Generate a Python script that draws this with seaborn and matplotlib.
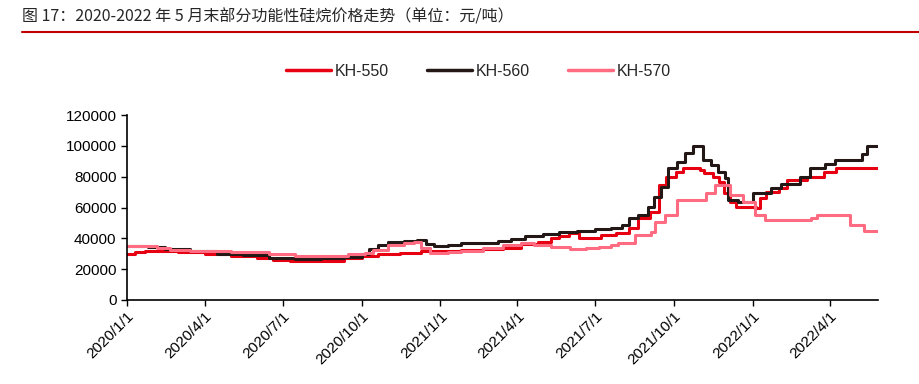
import pandas as pd
import matplotlib
matplotlib.use("Agg")
import matplotlib.pyplot as plt
import seaborn as sns

# KH-550
kh550_dates = [
    "2020-01-01", "2020-01-10", "2020-01-22", "2020-02-10", "2020-03-01", "2020-04-01",
    "2020-05-01", "2020-06-01", "2020-06-20", "2020-07-10", "2020-08-01", "2020-08-20",
    "2020-09-10", "2020-10-01", "2020-10-20", "2020-11-15", "2020-12-10", "2021-01-01",
    "2021-01-25", "2021-02-20", "2021-03-15", "2021-04-05", "2021-04-25", "2021-05-10",
    "2021-05-20", "2021-05-31", "2021-06-12", "2021-07-08", "2021-07-25", "2021-08-09",
    "2021-08-20", "2021-09-03", "2021-09-14", "2021-09-22", "2021-10-03", "2021-10-11",
    "2021-11-01", "2021-11-05", "2021-11-16", "2021-11-23", "2021-11-29", "2021-12-06",
    "2021-12-13", "2022-01-05", "2022-01-10", "2022-01-16", "2022-02-01", "2022-02-10",
    "2022-03-05", "2022-03-25", "2022-04-08", "2022-05-27",
]
kh550_values = [
    30000, 31000, 31800, 32000, 31000, 29800,
    28500, 27000, 26000, 25200, 25000, 25500,
    27000, 28500, 29500, 30500, 31500, 31500,
    32500, 33000, 34000, 36500, 37500, 40000,
    41500, 43500, 40200, 42000, 43500, 46700,
    53200, 57000, 74600, 79800, 83000, 85500,
    84300, 82300, 79800, 76500, 69300, 63600,
    60300, 60000, 66000, 70000, 72400, 77800,
    80000, 83200, 85400, 85400,
]

# KH-560
kh560_dates = [
    "2020-01-01", "2020-01-25", "2020-02-15", "2020-03-15", "2020-04-15", "2020-05-15",
    "2020-06-15", "2020-07-15", "2020-08-15", "2020-09-10", "2020-10-01", "2020-10-10",
    "2020-10-20", "2020-11-01", "2020-11-20", "2020-12-05", "2020-12-15", "2020-12-25",
    "2021-01-10", "2021-01-25", "2021-02-20", "2021-03-10", "2021-03-25", "2021-04-10",
    "2021-05-01", "2021-05-20", "2021-06-10", "2021-07-01", "2021-07-20", "2021-08-01",
    "2021-08-10", "2021-08-20", "2021-09-01", "2021-09-08", "2021-09-16", "2021-09-24",
    "2021-10-04", "2021-10-14", "2021-10-23", "2021-11-04", "2021-11-13", "2021-11-22",
    "2021-11-30", "2021-12-03", "2021-12-15", "2022-01-01", "2022-01-22", "2022-02-03",
    "2022-02-25", "2022-03-09", "2022-03-26", "2022-04-07", "2022-05-09", "2022-05-15",
    "2022-05-27",
]
kh560_values = [
    35000, 34500, 33000, 31500, 30000, 29000,
    27500, 26500, 27000, 28000, 29500, 33000,
    35500, 37800, 38500, 38900, 36500, 35000,
    35500, 37000, 37000, 38000, 39500, 41500,
    42500, 44000, 45000, 46000, 47000, 48600,
    53200, 55100, 60300, 66800, 73300, 85600,
    89500, 95400, 100000, 91000, 87600, 83000,
    79000, 64900, 63800, 69200, 72400, 75000,
    80000, 85400, 88600, 90800, 95100, 100300,
    100300,
]

# KH-570
kh570_dates = [
    "2020-01-01", "2020-01-20", "2020-02-05", "2020-02-20", "2020-03-15", "2020-05-01",
    "2020-06-15", "2020-07-15", "2020-08-15", "2020-09-15", "2020-10-05", "2020-10-15",
    "2020-11-01", "2020-11-20", "2020-12-01", "2020-12-10", "2020-12-20", "2021-01-10",
    "2021-01-25", "2021-02-20", "2021-03-15", "2021-04-05", "2021-04-20", "2021-05-10",
    "2021-06-01", "2021-06-20", "2021-07-05", "2021-07-20", "2021-07-28", "2021-08-17",
    "2021-09-04", "2021-09-09", "2021-09-21", "2021-10-04", "2021-11-08", "2021-11-18",
    "2021-12-05", "2021-12-21", "2022-01-04", "2022-01-15", "2022-03-10", "2022-03-17",
    "2022-04-25", "2022-05-11", "2022-05-27",
]
kh570_values = [
    35000, 35000, 34000, 32500, 31500, 31000,
    29500, 28200, 28500, 29500, 30500, 32400,
    35700, 37000, 37800, 34000, 30500, 31000,
    31500, 33700, 35700, 36700, 35500, 34100,
    33000, 33500, 34600, 35500, 37000, 42000,
    44000, 50600, 55000, 65000, 69300, 74600,
    68100, 63600, 55100, 52000, 53200, 55100,
    48600, 44600, 44600,
]

series_names = ["KH-550", "KH-560", "KH-570"]
colors = ["#E60012", "#231815", "#FF6B80"]
tick_dates = ["2020/1/1", "2020/4/1", "2020/7/1", "2020/10/1", "2021/1/1",
              "2021/4/1", "2021/7/1", "2021/10/1", "2022/1/1", "2022/4/1"]

frames = []
for name, d, v in zip(series_names,
                      [kh550_dates, kh560_dates, kh570_dates],
                      [kh550_values, kh560_values, kh570_values]):
    frames.append(pd.DataFrame({"date": pd.to_datetime(d), "price": v, "product": name}))
data = pd.concat(frames, ignore_index=True)

sns.set_style("white")
plt.rcParams["font.family"] = ["Liberation Sans", "Noto Sans CJK SC", "DejaVu Sans"]

fig = plt.figure(figsize=(9.2, 3.84), dpi=100)
ax = fig.add_axes([0.138, 0.219, 0.816, 0.481])

sns.lineplot(data=data, x="date", y="price", hue="product", hue_order=series_names,
             palette=colors, estimator=None, drawstyle="steps-post",
             linewidth=2.2, legend=False, ax=ax)

ax.set_xlim(pd.Timestamp("2020-01-01"), pd.Timestamp("2022-05-27"))
ax.set_ylim(0, 120000)
ax.set_yticks(range(0, 120001, 20000))
ax.set_xticks(pd.to_datetime(tick_dates))
ax.set_xticklabels(tick_dates, rotation=45, ha="right", rotation_mode="anchor")
ax.set_xlabel("")
ax.set_ylabel("")
ax.tick_params(axis="both", labelsize=11, length=4, width=1, direction="out",
               colors="black", bottom=True, left=True)
ax.tick_params(axis="x", pad=3)
for side in ["top", "right"]:
    ax.spines[side].set_visible(False)
for side in ["left", "bottom"]:
    ax.spines[side].set_color("black")
    ax.spines[side].set_linewidth(1.2)

# legend
handles = [plt.Line2D([], [], color=c, linewidth=2.5) for c in colors]
fig.legend(handles, series_names, loc="center", bbox_to_anchor=(0.52, 0.815), ncol=3,
           frameon=False, fontsize=11.5, handlelength=2.8, handletextpad=0.25,
           columnspacing=2.4)

# title and rule
fig.text(0.024, 0.955, "图 17：2020-2022 年 5 月末部分功能性硅烷价格走势（单位：元/吨）",
         fontsize=11.5, ha="left", va="center",
         family=["Noto Sans CJK SC", "DejaVu Sans"])
fig.add_artist(plt.Line2D([0.024, 1.0], [0.917, 0.917], color="#C00000", linewidth=1.5))

fig.savefig("out.png", dpi=100)
